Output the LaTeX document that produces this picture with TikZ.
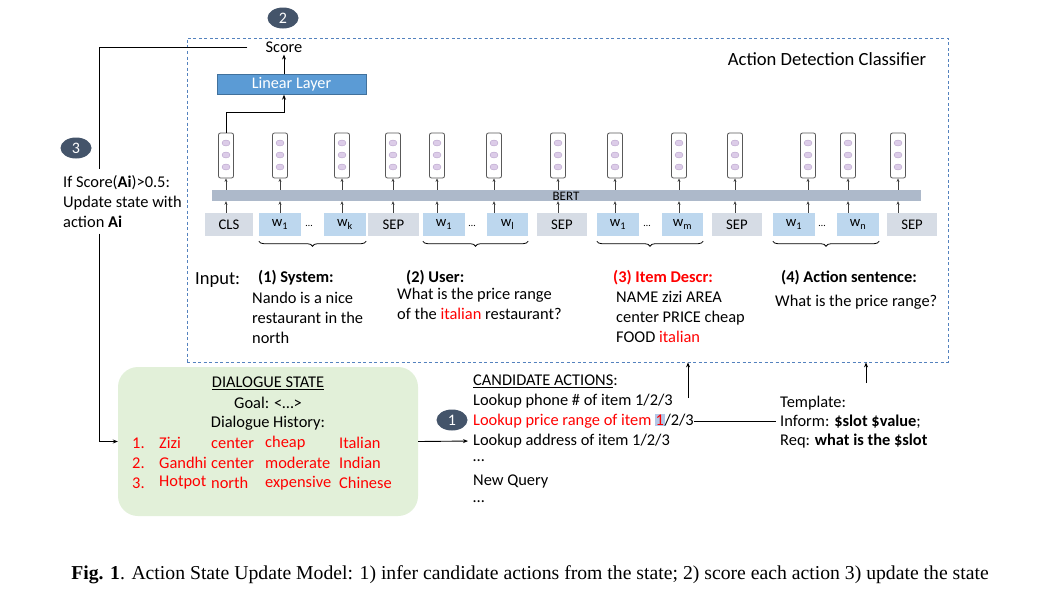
\documentclass[tikz,border=0pt]{standalone}
\usepackage{fontspec}
\setmainfont{Carlito}
\newfontfamily\capfont{Liberation Serif}
\usepackage{xcolor}
\usepackage{tikz}
\usetikzlibrary{arrows.meta,positioning,calc,shapes.geometric,decorations.pathreplacing}
\definecolor{dashblue}{RGB}{84,130,190}
\definecolor{linblue}{RGB}{91,155,213}
\definecolor{linedge}{RGB}{65,113,156}
\definecolor{tokblue}{RGB}{189,215,238}
\definecolor{tokgray}{RGB}{214,220,229}
\definecolor{bertgray}{RGB}{173,185,202}
\definecolor{badgeblue}{RGB}{68,84,106}
\definecolor{stategreen}{RGB}{226,240,217}
\definecolor{dotfill}{RGB}{220,204,232}
\definecolor{dotedge}{RGB}{185,163,204}
\definecolor{hilite}{RGB}{180,199,231}

\begin{document}
\begin{tikzpicture}[
    x=1pt, y=-1pt,
    >={Stealth[length=5pt,width=4pt]},
    txt/.style={inner sep=0pt, font=\fontsize{16.4}{20}\selectfont},
    block/.style={txt, align=left, anchor=north west},
    badge/.style={ellipse, fill=badgeblue, text=white, minimum width=31pt, minimum height=21pt, inner sep=0pt, font=\fontsize{16}{18}\selectfont},
    vecbox/.style={draw=black!65, fill=white, rounded corners=2pt, minimum width=15pt, minimum height=45pt, inner sep=0pt, line width=0.8pt},
    tok/.style={minimum height=23pt, inner sep=0pt, font=\fontsize{14.7}{16}\selectfont},
    small/.style={black!75, line width=0.7pt, -{Stealth[length=3.5pt,width=3pt]}},
    brace/.style={decorate, decoration={brace, amplitude=5pt, mirror}, line width=0.8pt},
    red/.style={text=red}
]
\fill[white] (0,0) rectangle (1064,589);
\useasboundingbox (0,0) rectangle (1064,589);

% classifier frame
\node[draw=dashblue, dashed, dash pattern=on 3pt off 2.5pt, line width=0.8pt, minimum width=761pt, minimum height=324pt] (clsf) at (567.5,200) {};
\node[txt, font=\fontsize{18.6}{22}\selectfont] (title) at (827,59) {Action Detection Classifier};

% score head
\node[badge] (b2) at (283,18) {2};
\node[txt] (score) at (284,47) {Score};
\node[fill=linblue, draw=linedge, text=white, minimum width=149pt, minimum height=20pt, inner sep=0pt, font=\fontsize{16.2}{18}\selectfont] (lin) at (291.5,84.5) {Linear Layer};
\draw[->, line width=0.9pt] (lin.north -| score) -- ([yshift=-2pt]score.south);

% BERT
\node[fill=bertgray, minimum width=709pt, minimum height=11pt, inner sep=0pt] (bert) at (566.5,195.5) {};
\node[inner sep=0pt, font=\fontsize{13}{14}\selectfont] (bertlbl) at (566,196) {BERT};

\foreach \vx [count=\i] in {226,280,342,393,437,494,558,615,679,735,808,848,898} {
  \node[vecbox] (v\i) at (\vx,155.5) {};
  \foreach \cy in {143,155,167}
    \draw[fill=dotfill, draw=dotedge] (\vx,\cy) ellipse [x radius=4pt, y radius=3pt];
}

\foreach \tx/\tw/\tl/\tf [count=\i] in {
  229/48/CLS/tokgray, 280/42/{w\textsubscript{1}}/tokblue, 345/42/{w\textsubscript{k}}/tokblue, 393.5/51/SEP/tokgray,
  444/42/{w\textsubscript{1}}/tokblue, 507.5/41/{w\textsubscript{l}}/tokblue, 562/50/SEP/tokgray,
  618/42/{w\textsubscript{1}}/tokblue, 682.5/41/{w\textsubscript{m}}/tokblue, 737/50/SEP/tokgray,
  794/42/{w\textsubscript{1}}/tokblue, 858/42/{w\textsubscript{n}}/tokblue, 912/50/SEP/tokgray} {
  \node[tok, fill=\tf, minimum width=\tw pt] (t\i) at (\tx,224.5) {\tl};
}
\foreach \dx [count=\i] in {309,472,647,822}
  \node[inner sep=0pt, font=\fontsize{10}{12}\selectfont] (d\i) at (\dx,226) {\ldots};

\foreach \i in {1,...,13} {
  \draw[small] (v\i |- t\i.north) -- (v\i |- bert.south);
  \draw[small] (v\i |- bert.north) -- (v\i.south);
}
\draw[->, line width=0.9pt] (v1.north) -- ++(0,-20) -| (score |- lin.south);

% braces under the segments
\draw[brace] ([yshift=-5pt]t2.south west) -- ([yshift=-5pt]t3.south east);
\draw[brace] ([yshift=-5pt]t5.south west) -- ([yshift=-5pt]t6.south east);
\draw[brace, red] ([yshift=-5pt]t8.south west) -- ([yshift=-5pt]t9.south east);
\draw[brace] ([yshift=-5pt]t11.south west) -- ([yshift=-5pt]t12.south east);

% inputs
\node[txt, anchor=west, font=\fontsize{18.5}{22}\selectfont] (input) at (195,280) {Input:};
\node[txt, anchor=west, font=\fontsize{16.4}{20}\bfseries] (s1h) at (258,278) {(1) System:};
\node[block] (s1) at (252,292) {Nando is a nice\\restaurant in the\\north};
\node[txt, anchor=west, font=\fontsize{16.4}{20}\bfseries] (s2h) at (406,278) {(2) User:};
\node[block] (s2) at (397,288) {What is the price range\\of the {\color{red}italian} restaurant?};
\node[txt, anchor=west, font=\fontsize{16.4}{20}\bfseries, text=red] (s3h) at (613,278) {(3) Item Descr:};
\node[block] (s3) at (616,291) {NAME zizi AREA\\center PRICE cheap\\FOOD {\color{red}italian}};
\node[txt, anchor=west, font=\fontsize{16.4}{20}\bfseries] (s4h) at (781,278) {(4) Action sentence:};
\node[block] (s4) at (775,295) {What is the price range?};

% update loop
\node[badge] (b3) at (76,148) {3};
\node[block, inner ysep=6pt] (cond) at (63,169) {If Score(\textbf{Ai})>0.5:\\Update state with\\action \textbf{Ai}};

% dialogue state
\node[fill=stategreen, rounded corners=20pt, minimum width=300pt, minimum height=149pt] (state) at (268,441.5) {};
\node[txt] (dsh) at (268,383) {\underline{DIALOGUE STATE}};
\node[txt] (goal) at (268,403) {Goal: <\ldots>};
\node[txt] (hist) at (268,423) {Dialogue History:};
\foreach \n/\nm/\ar/\pr/\fd [count=\r] in {1./Zizi/center/cheap/Italian, 2./Gandhi/center/moderate/Indian, 3./Hotpot/north/expensive/Chinese} {
  \node[txt, red, anchor=west] (h\r a) at (132,423+20*\r) {\n};
  \node[txt, red, anchor=west] (h\r b) at (159,423+20*\r) {\nm};
  \node[txt, red, anchor=west] (h\r c) at (211,423+20*\r) {\ar};
  \node[txt, red, anchor=west] (h\r d) at (265,423+20*\r) {\pr};
  \node[txt, red, anchor=west] (h\r e) at (339,423+20*\r) {\fd};
}

\coordinate (bend) at (99,47);
\draw[line width=0.9pt] ([xshift=-18pt]score.west) -- (bend) -- (bend |- cond.north);
\draw[->, line width=0.9pt] (bend |- cond.south) -- (bend |- state.west) -- (state.west);

% candidate actions
\node[badge] (b1) at (452,420) {1};
\node[txt, anchor=west] (ca0) at (473,381) {\underline{CANDIDATE ACTIONS}:};
\node[txt, anchor=west] (ca1) at (473,401) {Lookup phone \# of item 1/2/3};
\node[txt, anchor=west] (ca2) at (473,421) {{\color{red}Lookup price range of item {\setlength\fboxsep{0.5pt}\colorbox{hilite}{1}}}/2/3};
\node[txt, anchor=west] (ca3) at (473,441) {Lookup address of item 1/2/3};
\node[txt, anchor=west] (ca4) at (473,461) {\ldots};
\node[txt, anchor=west] (ca5) at (473,481) {New Query};
\node[txt, anchor=west] (ca6) at (473,502) {\ldots};
\draw[->, line width=0.9pt, shorten >=5pt] (state.east) -- (ca3.west);

\node[txt, anchor=west] (tp1) at (780,403) {Template:};
\node[txt, anchor=west] (tp2) at (780,422) {Inform: \textbf{\$slot \$value};};
\node[txt, anchor=west] (tp3) at (780,441) {Req: \textbf{what is the \$slot}};
\draw[line width=0.9pt, shorten >=4pt] (ca2.east) -- (tp2.west |- ca2.east);

\coordinate (up1) at (688,398);
\coordinate (up2) at (866,383);
\draw[->, line width=0.9pt] (up1) -- (up1 |- clsf.south);
\draw[->, line width=0.9pt] (up2) -- (up2 |- clsf.south);

% caption
\node[inner sep=0pt, font=\capfont\fontsize{19.7}{22}\selectfont] (cap) at (530,575) {\textbf{Fig. 1}. Action State Update Model: 1) infer candidate actions from the state; 2) score each action 3) update the state};
\end{tikzpicture}
\end{document}
